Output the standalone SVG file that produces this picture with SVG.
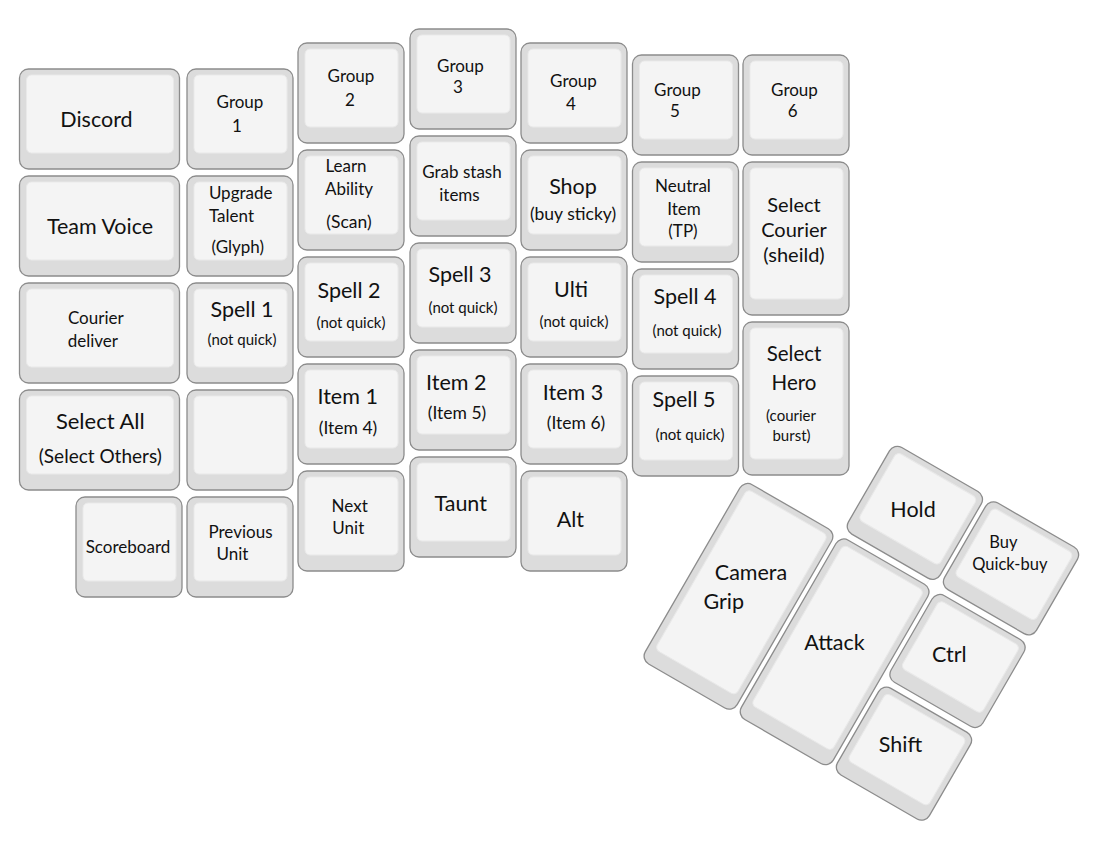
<svg xmlns="http://www.w3.org/2000/svg" xmlns:xlink="http://www.w3.org/1999/xlink" width="1113" height="847" viewBox="0 0 1113 847">
<style>
.ko{fill:#dcdcdc;stroke:#8c8c8c;stroke-width:1.3}
.ki{fill:#f4f4f4;stroke:#e9e9e9;stroke-width:1}
text{font-family:Lato,"Liberation Sans",sans-serif;fill:#111;text-anchor:middle}
.L{font-size:21.5px}
.M{font-size:17px}
.P{font-size:17.5px}
.S{font-size:15px}
.st{text-anchor:start}
</style>
<defs>
<g id="k1"><rect class="ko" x="0" y="0" width="106" height="100" rx="9"/><rect class="ki" x="7" y="6" width="93" height="78" rx="5"/></g>
<g id="kw"><rect class="ko" x="0" y="0" width="160" height="100" rx="9"/><rect class="ki" x="7" y="6" width="147" height="78" rx="5"/></g>
<g id="kt"><rect class="ko" x="0" y="0" width="106" height="153" rx="9"/><rect class="ki" x="7" y="6" width="93" height="131" rx="5"/></g>
<g id="kb"><rect class="ko" x="0" y="0" width="106" height="207" rx="9"/><rect class="ki" x="7" y="6" width="93" height="185" rx="5"/></g>
</defs>
<rect width="1113" height="847" fill="#fff"/>

<g id="connectors"/>

<!-- column 0 -->
<g id="discord"><use href="#kw" x="19.5" y="69"/><text class="L" x="96.5" y="126.7">Discord</text></g>
<g id="team-voice"><use href="#kw" x="19.5" y="176"/><text class="L" x="100" y="233.7">Team Voice</text></g>
<g id="courier-deliver"><use href="#kw" x="19.5" y="283"/><text class="M" x="95.8" y="324.1">Courier</text><text class="M" x="92.8" y="347">deliver</text></g>
<g id="select-all"><use href="#kw" x="19.5" y="390"/><text x="100.3" y="428.9" font-size="22">Select All</text><text x="100.3" y="462.9" font-size="19">(Select Others)</text></g>
<g id="scoreboard"><use href="#k1" x="76" y="497"/><text class="M" x="128" y="552.6">Scoreboard</text></g>

<!-- column 1 -->
<g id="group1"><use href="#k1" x="187" y="69"/><text class="M" x="240" y="107.6">Group</text><text class="M" x="237" y="131.6">1</text></g>
<g id="upgrade-talent"><use href="#k1" x="187" y="176"/><text class="M" x="240.7" y="199.1">Upgrade</text><text class="M st" x="209" y="222.1">Talent</text><text class="M" x="237.8" y="252.8">(Glyph)</text></g>
<g id="spell1"><use href="#k1" x="187" y="283"/><text class="L" x="242" y="316.7">Spell 1</text><text class="S" x="242" y="345.4">(not quick)</text></g>
<g id="blank"><use href="#k1" x="187" y="390"/></g>
<g id="previous-unit"><use href="#k1" x="187" y="497"/><text class="M" x="240.5" y="537.6">Previous</text><text class="M" x="232.5" y="560.1">Unit</text></g>

<!-- column 2 -->
<g id="group2"><use href="#k1" x="298" y="43"/><text class="M" x="351" y="82.4">Group</text><text class="M" x="350" y="106.1">2</text></g>
<g id="learn-ability"><use href="#k1" x="298" y="150"/><text class="M" x="346" y="172.1">Learn</text><text class="M" x="349" y="195.1">Ability</text><text class="P" x="349" y="227.8">(Scan)</text></g>
<g id="spell2"><use href="#k1" x="298" y="257"/><text class="L" x="349" y="298.2">Spell 2</text><text class="S" x="351" y="327.7">(not quick)</text></g>
<g id="item1"><use href="#k1" x="298" y="364"/><text class="L" x="347.7" y="403.7">Item 1</text><text class="P" x="348" y="434.4">(Item 4)</text></g>
<g id="next-unit"><use href="#k1" x="298" y="471"/><text class="M" x="349.7" y="512.1">Next</text><text class="M" x="348.3" y="534.1">Unit</text></g>

<!-- column 3 -->
<g id="group3"><use href="#k1" x="410" y="29"/><text class="M" x="460.5" y="71.6">Group</text><text class="M" x="458" y="93.1">3</text></g>
<g id="grab-stash"><use href="#k1" x="410" y="136"/><text class="M" x="462" y="178.1">Grab stash</text><text class="M" x="459.5" y="201">items</text></g>
<g id="spell3"><use href="#k1" x="410" y="243"/><text class="L" x="460" y="282.2">Spell 3</text><text class="S" x="463" y="312.7">(not quick)</text></g>
<g id="item2"><use href="#k1" x="410" y="350"/><text class="L" x="456.3" y="390.2">Item 2</text><text class="P" x="457" y="419.4">(Item 5)</text></g>
<g id="taunt"><use href="#k1" x="410" y="457"/><text class="L" x="460.7" y="511.2">Taunt</text></g>

<!-- column 4 -->
<g id="group4"><use href="#k1" x="521" y="43"/><text class="M" x="573.5" y="87.1">Group</text><text class="M" x="571" y="109.6">4</text></g>
<g id="shop"><use href="#k1" x="521" y="150"/><text class="L" x="573" y="194.4">Shop</text><text class="P" x="573" y="220.4">(buy sticky)</text></g>
<g id="ulti"><use href="#k1" x="521" y="257"/><text class="L" x="571" y="297">Ulti</text><text class="S" x="574" y="327.4">(not quick)</text></g>
<g id="item3"><use href="#k1" x="521" y="364"/><text class="L" x="573" y="400.2">Item 3</text><text class="P" x="576" y="429.4">(Item 6)</text></g>
<g id="alt"><use href="#k1" x="521" y="471"/><text class="L" x="570.3" y="526.7">Alt</text></g>

<!-- column 5 -->
<g id="group5"><use href="#k1" x="632.5" y="55"/><text class="M" x="677.5" y="95.8">Group</text><text class="M" x="675" y="117.1">5</text></g>
<g id="neutral-item"><use href="#k1" x="632.5" y="162"/><text class="M" x="683" y="192.1">Neutral</text><text class="M" x="684" y="215.1">Item</text><text class="M" x="683" y="237.3">(TP)</text></g>
<g id="spell4"><use href="#k1" x="632.5" y="269"/><text class="L" x="685" y="304.2">Spell 4</text><text class="S" x="687" y="336.2">(not quick)</text></g>
<g id="spell5"><use href="#k1" x="632.5" y="376"/><text class="L" x="684" y="406.7">Spell 5</text><text class="S" x="690" y="439.7">(not quick)</text></g>

<!-- column 6 -->
<g id="group6"><use href="#k1" x="743" y="55"/><text class="M" x="794.5" y="96.1">Group</text><text class="M" x="792.7" y="117.1">6</text></g>
<g id="select-courier"><use href="#kt" x="743" y="162"/><text x="794" y="212.2" font-size="20">Select</text><text x="794" y="236.7" font-size="20">Courier</text><text x="794" y="262.2" font-size="20">(sheild)</text></g>
<g id="select-hero"><use href="#kt" x="743" y="322"/><text x="794" y="360.7" font-size="20.5">Select</text><text x="794" y="390.4" font-size="20.5">Hero</text><text class="S" x="791" y="420.7">(courier</text><text class="S" x="791.5" y="440.7">burst)</text></g>

<!-- thumb cluster -->
<g id="hold"><use href="#k1" transform="translate(957.5 661) rotate(30) translate(-164 -157)"/><text class="L" x="913" y="517.4">Hold</text></g>
<g id="buy"><use href="#k1" transform="translate(957.5 661) rotate(30) translate(-53 -157)"/><text x="1003.3" y="547.7" font-size="16.5">Buy</text><text x="1009.8" y="570.4" font-size="16.5">Quick-buy</text></g>
<g id="ctrl"><use href="#k1" transform="translate(957.5 661) rotate(30) translate(-53 -50)"/><text class="L" x="949.3" y="662.2">Ctrl</text></g>
<g id="shift"><use href="#k1" transform="translate(957.5 661) rotate(30) translate(-53 57)"/><text class="L" x="900.5" y="751.7">Shift</text></g>
<g id="attack"><use href="#kb" transform="translate(957.5 661) rotate(30) translate(-164 -50)"/><text class="L" x="834.5" y="650.2">Attack</text></g>
<g id="camera-grip"><use href="#kb" transform="translate(957.5 661) rotate(30) translate(-275 -50)"/><text class="L" x="751" y="580.2">Camera</text><text class="L" x="723.7" y="608.7">Grip</text></g>
</svg>
